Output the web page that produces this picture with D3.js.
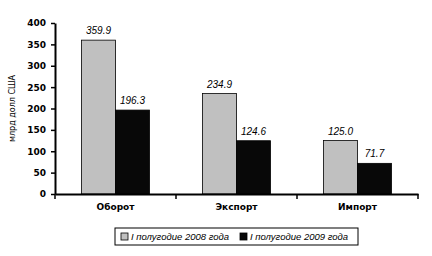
<!DOCTYPE html>
<html><head><meta charset="utf-8">
<script src="https://cdn.jsdelivr.net/npm/d3@7"></script>
<style>body{margin:0;background:#fff}svg{display:block}</style>
</head><body>
<script>
const categories = ["Оборот", "Экспорт", "Импорт"];
const seriesNames = ["I полугодие 2008 года", "I полугодие 2009 года"];
const values2008 = [359.9, 234.9, 125.0];
const values2009 = [196.3, 124.6, 71.7];
const yTicks = [0, 50, 100, 150, 200, 250, 300, 350, 400];
const colors = ["#c0c0c0", "#080808"];

const W = 432, H = 256;
const m = {left: 55, right: 14, top: 23, bottom: 62};
const svg = d3.select("body").append("svg").attr("width", W).attr("height", H);
const x = d3.scaleBand().domain(categories).range([m.left, W - m.right]).paddingInner(0).paddingOuter(0);
const y = d3.scaleLinear().domain([0, 400]).range([H - m.bottom, m.top]);
const inner = d3.scaleBand().domain([0, 1]).range([0, x.bandwidth()]).paddingInner(0).paddingOuter(0.78);
const series = [values2008, values2009];

const g = svg.append("g");
categories.forEach((c, i) => {
  series.forEach((vals, s) => {
    const x0 = x(c) + inner(s);
    g.append("rect").attr("x", x0).attr("y", y(vals[i]))
      .attr("width", inner.bandwidth()).attr("height", y(0) - y(vals[i]))
      .attr("fill", colors[s]).attr("stroke", "#000").attr("stroke-width", 0.8);
    g.append("text").attr("x", x0 + inner.bandwidth()/2).attr("y", y(vals[i]) - 6)
      .attr("text-anchor", "middle").attr("font-family", "Liberation Sans, Arial, sans-serif")
      .attr("font-size", 10).attr("font-style", "italic").attr("fill", "#000")
      .text(vals[i].toFixed(1));
  });
});

// y axis
const ya = svg.append("g").attr("transform", `translate(${m.left},0)`)
  .call(d3.axisLeft(y).tickValues(yTicks).tickSize(4).tickSizeOuter(0));
ya.select(".domain").attr("stroke", "#000").attr("stroke-width", 2);
ya.selectAll(".tick line").attr("stroke", "#000").attr("stroke-width", 1.5);
ya.selectAll("text").attr("font-family", "DejaVu Sans, sans-serif").attr("font-weight", "bold")
  .attr("font-size", 9).attr("fill", "#000").attr("dx", -2);

// x axis
const xa = svg.append("g").attr("transform", `translate(0,${y(0)})`)
  .call(d3.axisBottom(x).tickSize(0).tickSizeOuter(0));
xa.select(".domain").attr("stroke", "#000").attr("stroke-width", 2);
xa.selectAll("text").attr("font-family", "DejaVu Sans, sans-serif").attr("font-weight", "bold")
  .attr("font-size", 9).attr("fill", "#000").attr("dy", 13);
const bounds = categories.map(c => x(c)).concat([x(categories[categories.length-1]) + x.bandwidth()]);
xa.selectAll(".sep").data(bounds).enter().append("line")
  .attr("x1", d => d).attr("x2", d => d).attr("y1", 0).attr("y2", 5)
  .attr("stroke", "#000").attr("stroke-width", 1.5);

// y label
svg.append("text").attr("transform", `translate(15,${(m.top + y(0))/2}) rotate(-90)`)
  .attr("text-anchor", "middle").attr("font-family", "DejaVu Sans, sans-serif")
  .attr("font-size", 8).attr("fill", "#000").text("млрд долл США");

// legend
const lg = svg.append("g");
lg.append("rect").attr("x", 115).attr("y", 228).attr("width", 243).attr("height", 17)
  .attr("fill", "#fff").attr("stroke", "#000").attr("stroke-width", 1);
const lx = [121, 240];
seriesNames.forEach((n, s) => {
  lg.append("rect").attr("x", lx[s]).attr("y", 233).attr("width", 7).attr("height", 7)
    .attr("fill", colors[s]).attr("stroke", "#000").attr("stroke-width", 0.8);
  lg.append("text").attr("x", lx[s] + 10).attr("y", 240).attr("font-family", "Liberation Sans, Arial, sans-serif")
    .attr("font-size", 9.5).attr("font-style", "italic").attr("fill", "#000").text(n);
});
</script>
</body></html>
